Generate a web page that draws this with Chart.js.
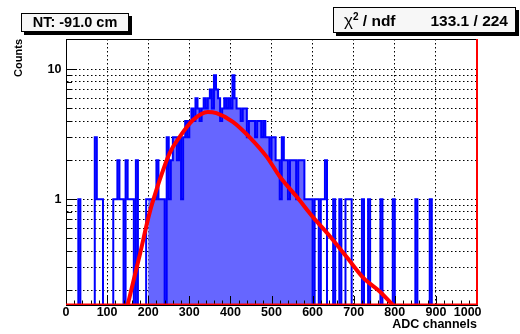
<!DOCTYPE html>
<html>
<head>
<meta charset="utf-8">
<script src="https://cdn.jsdelivr.net/npm/chart.js@4.4.1/dist/chart.umd.min.js"></script>
<style>
  html, body { margin: 0; padding: 0; background: #fff; }
  #wrap { position: relative; width: 520px; height: 334px; font-family: "Liberation Sans", Arial, sans-serif; }
  canvas { position: absolute; left: 0; top: 0; }
  .box { position: absolute; border: 1px solid #000; background: #f7f7f7; box-shadow: 3px 3px 0 #000; font-weight: bold; color: #000; box-sizing: border-box; }
  #title { left: 21px; top: 13px; width: 108px; height: 19px; font-size: 14.5px; line-height: 17px; text-align: center; }
  #stats { left: 333px; top: 7px; width: 183px; height: 26px; font-size: 15.5px; line-height: 25px; }
  #stats .k { position: absolute; left: 10px; }
  #stats .v { position: absolute; right: 7px; }
  #stats sup { font-size: 10px; vertical-align: 6px; line-height: 0; }
</style>
</head>
<body>
<div id="wrap">
  <canvas id="chart" width="520" height="334"></canvas>
  <div class="box" id="title">NT: -91.0 cm</div>
  <div class="box" id="stats"><span class="k"><span style="font-weight:normal;font-size:17px">&chi;</span><sup>2</sup> / ndf</span><span class="v">133.1 / 224</span></div>
</div>
<script>
// histogram: 200 bins of 5 ADC channels, counts
const binWidth = 5;
const counts = [
  0,0,0,0,0,0,1,0,0,0,
  0,0,0,0,3,1,1,1,0,0,
  0,0,0,1,1,2,1,1,0,2,
  1,1,1,0,2,0,0,0,0,1,
  1,1,1,1,2,1,1,1,0,3,
  1,2,3,3,2,3,1,3,4,3,
  4,5,4,6,5,4,5,6,5,6,
  7,5,9,7,6,4,5,6,5,6,
  5,9,6,5,5,4,5,5,3,4,
  4,4,3,4,4,3,4,3,3,2,
  3,3,2,2,1,3,2,2,1,2,
  2,2,1,2,2,2,1,1,1,1,
  0,1,1,0,1,1,2,0,0,0,
  1,0,0,1,0,0,1,1,1,0,
  0,0,0,0,1,0,0,1,0,0,
  0,0,0,1,0,0,0,0,0,1,
  0,0,0,0,0,0,0,0,0,0,
  1,0,0,0,0,0,0,1,0,0,
  0,0,0,0,0,0,0,0,0,0,
  0,0,0,0,0,0,0,0,0,0
];
// channels shown with fill
const fillFrom = 200;
const fillTo = 600;

// fit curve
const fitChannels = [150, 180, 203, 228, 252, 276, 309, 345, 366, 406, 447, 488, 520, 561, 601, 642, 683, 723, 764, 795];
const fitValues   = [0.154, 0.38, 0.78, 1.41, 2.26, 3.0, 4.07, 4.7, 4.6, 3.95, 3.0, 2.13, 1.5, 1.05, 0.73, 0.52, 0.36, 0.25, 0.195, 0.154];

const xMin = 0, xMax = 1000;
const yMin = 0.154, yMax = 17.1;
const yGridTicks = [0.2,0.3,0.4,0.5,0.6,0.7,0.8,0.9,1,2,3,4,5,6,7,8,9,10];
const yLabelTicks = [1, 10];

const EMPTY = 0.01; // empty bins drop below the axis
const histPoints = counts.map((c, i) => ({ x: i * binWidth, y: c > 0 ? c : EMPTY }));
histPoints.push({ x: counts.length * binWidth, y: EMPTY });
const fillPoints = histPoints.filter(p => p.x >= fillFrom && p.x < fillTo);
fillPoints.push({ x: fillTo, y: EMPTY });
const fitPoints = fitChannels.map((c, i) => ({ x: c, y: fitValues[i] }));

const FONT = '"Liberation Sans", Arial, sans-serif';

// ROOT style inward ticks, frame top and the red right edge
const frameTicks = {
  id: 'frameTicks',
  afterDatasetDraw(chart, args) {
    if (args.index !== 1) return;
    const { ctx, chartArea: a, scales: { x, y } } = chart;
    ctx.save();
    ctx.strokeStyle = '#000';
    ctx.lineWidth = 1;
    ctx.beginPath();
    for (let v = xMin; v <= xMax; v += 20) {
      const px = Math.round(x.getPixelForValue(v)) + 0.5;
      const len = v % 100 === 0 ? 9 : 4.5;
      ctx.moveTo(px, a.bottom);
      ctx.lineTo(px, a.bottom - len);
    }
    yGridTicks.forEach(v => {
      const py = Math.round(y.getPixelForValue(v)) + 0.5;
      const len = yLabelTicks.includes(v) ? 11 : 6;
      ctx.moveTo(a.left, py);
      ctx.lineTo(a.left + len, py);
    });
    ctx.moveTo(a.left, a.top + 0.5);
    ctx.lineTo(a.right, a.top + 0.5);
    ctx.stroke();
    ctx.strokeStyle = '#ff0000';
    ctx.lineWidth = 2;
    ctx.beginPath();
    ctx.moveTo(a.right, a.top);
    ctx.lineTo(a.right, a.bottom);
    ctx.stroke();
    ctx.restore();
  }
};

new Chart(document.getElementById('chart'), {
  type: 'line',
  data: {
    datasets: [
      {
        label: 'fill',
        data: fillPoints,
        stepped: 'before',
        borderWidth: 0,
        pointRadius: 0,
        fill: 'start',
        backgroundColor: '#6666ff',
        order: 3
      },
      {
        label: 'counts',
        data: histPoints,
        stepped: 'before',
        borderColor: '#0000ff',
        borderWidth: 2,
        pointRadius: 0,
        fill: false,
        order: 2
      },
      {
        label: 'fit',
        data: fitPoints,
        borderColor: '#ff0000',
        borderWidth: 4,
        pointRadius: 0,
        cubicInterpolationMode: 'monotone',
        fill: false,
        order: 1
      },
      {
        label: 'fit base',
        data: [{ x: xMin, y: yMin }, { x: xMax, y: yMin }],
        borderColor: '#ff0000',
        borderWidth: 3,
        pointRadius: 0,
        fill: false,
        order: 0
      }
    ]
  },
  options: {
    responsive: false,
    animation: false,
    devicePixelRatio: 1,
    parsing: false,
    layout: { padding: { top: 39, right: 43, left: 0, bottom: 0 } },
    plugins: { legend: { display: false }, tooltip: { enabled: false } },
    scales: {
      x: {
        type: 'linear',
        min: xMin, max: xMax,
        afterFit: s => { s.height = 29; },
        ticks: {
          stepSize: 100, padding: 0, color: '#000',
          autoSkip: false, minRotation: 0, maxRotation: 0,
          font: { family: FONT, size: 12.5, weight: 'bold' },
          // last label sits left of its tick, as in the original
          callback: v => v === xMax ? String(v) + '\u2002\u2002\u2002' : String(v)
        },
        grid: {
          drawTicks: false,
          color: c => (c.tick && c.tick.value > xMin && c.tick.value < xMax) ? '#000' : 'rgba(0,0,0,0)',
          lineWidth: 1
        },
        border: { color: '#000', width: 1, dash: [1.5, 2.5] },
        title: {
          display: true, text: 'ADC channels', align: 'end',
          color: '#000', font: { family: FONT, size: 12.5, weight: 'bold' },
          padding: { top: 0, bottom: 1.5 }
        }
      },
      y: {
        type: 'logarithmic',
        min: yMin, max: yMax,
        afterFit: s => { s.width = 66; },
        afterBuildTicks: s => { s.ticks = yGridTicks.map(v => ({ value: v })); },
        ticks: {
          padding: 4.5, color: '#000', autoSkip: false,
          font: { family: FONT, size: 12.5, weight: 'bold' },
          callback: v => yLabelTicks.includes(v) ? String(v) : ''
        },
        grid: { drawTicks: false, color: '#000', lineWidth: 1 },
        border: { color: '#000', width: 1, dash: [1.5, 2.5] },
        title: {
          display: true, text: 'Counts', align: 'end',
          color: '#000', font: { family: FONT, size: 11, weight: 'bold' },
          padding: { top: 12 }
        }
      }
    }
  },
  plugins: [frameTicks]
});
</script>
</body>
</html>
